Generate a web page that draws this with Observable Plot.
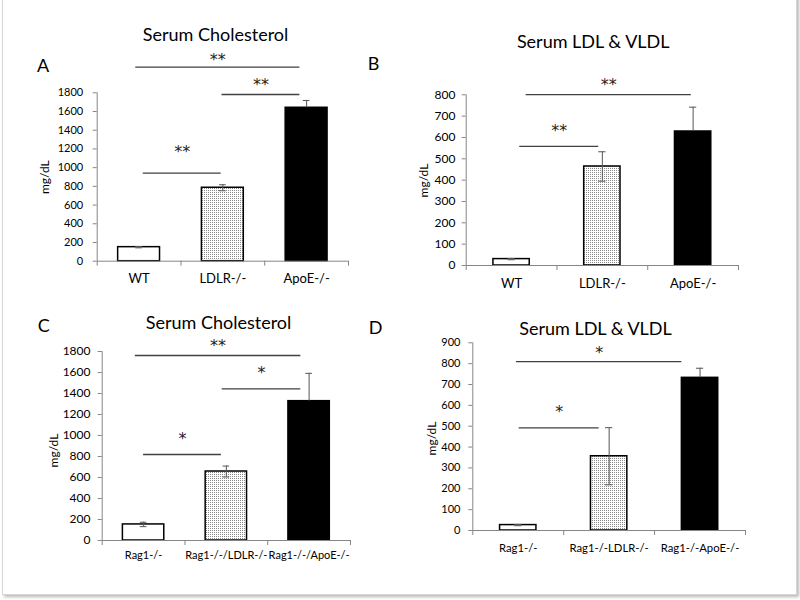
<!DOCTYPE html>
<html><head><meta charset="utf-8">
<script src="https://cdn.jsdelivr.net/npm/d3@7"></script>
<script src="https://cdn.jsdelivr.net/npm/@observablehq/plot@0.6"></script>
<style>
body{margin:0;background:#fff;}
#page{position:relative;width:800px;height:600px;overflow:hidden;background:#fff;}
#frame{position:absolute;left:2px;top:-6px;width:793px;height:599px;border:1px solid #d6d6d6;box-shadow:2px 2px 3px rgba(0,0,0,0.28);}
#page svg{position:absolute;overflow:visible;}
</style></head>
<body><div id="page"><div id="frame"></div>
<svg width="0" height="0" style="position:absolute">
<defs><pattern id="dots" width="2" height="2" patternUnits="userSpaceOnUse">
<rect width="2" height="2" fill="#ffffff"/><rect x="0" y="0" width="1" height="1" fill="#8a8a8a"/></pattern></defs></svg>
</div>
<script>
// ---- Data ----
const titlesAll = ["Serum Cholesterol", "Serum LDL & VLDL", "Serum Cholesterol", "Serum LDL & VLDL"];
const lettersAll = ["A", "B", "C", "D"];
const yLabel = "mg/dL";

const catsA = ["WT", "LDLR-/-", "ApoE-/-"];
const valsA = [150, 785, 1640];
const errsA = [7, 32, 78];
const ticksA = [0, 200, 400, 600, 800, 1000, 1200, 1400, 1600, 1800];
const sigA = [
  {x1: 0.46, x2: 2.42, y: 2074, sy: 2199, label: "**"},
  {x1: 1.49, x2: 2.42, y: 1782, sy: 1931, label: "**"},
  {x1: 0.55, x2: 1.48, y: 941, sy: 1215, label: "**"}
];

const catsB = ["WT", "LDLR-/-", "ApoE-/-"];
const valsB = [30, 464, 628];
const errsB = [3, 69, 114];
const ticksB = [0, 100, 200, 300, 400, 500, 600, 700, 800];
const sigB = [
  {x1: 0.66, x2: 2.48, y: 801, sy: 867, label: "**"},
  {x1: 0.59, x2: 1.46, y: 558, sy: 648, label: "**"}
];

const catsC = ["Rag1-/-", "Rag1-/-/LDLR-/-", "Rag1-/-/ApoE-/-"];
const valsC = [153, 657, 1327];
const errsC = [21, 52, 265];
const ticksC = [0, 200, 400, 600, 800, 1000, 1200, 1400, 1600, 1800];
const sigC = [
  {x1: 0.40, x2: 2.40, y: 1762, sy: 1889, label: "**"},
  {x1: 1.45, x2: 2.40, y: 1445, sy: 1638, label: "*"},
  {x1: 0.50, x2: 1.44, y: 819, sy: 1010, label: "*"}
];

const catsD = ["Rag1-/-", "Rag1-/-LDLR-/-", "Rag1-/-ApoE-/-"];
const valsD = [26, 356, 732];
const errsD = [3, 137, 46];
const ticksD = [0, 100, 200, 300, 400, 500, 600, 700, 800, 900];
const sigD = [
  {x1: 0.48, x2: 2.30, y: 810, sy: 871, label: "*"},
  {x1: 0.51, x2: 1.39, y: 492, sy: 588, label: "*"}
];

const fills = ["#ffffff", "url(#dots)", "#000000"];

// ---- Layout (styles/positions) ----
const layouts = [
  {ox: 0, oy: 0, mL: 96.7, mR: 52, mT: 92.3, mB: 39.3, barW: 0.5, tickFont: 11, tickPad: 10, catFont: 13, catPad: 12.6,
   title: [215, 35], letter: [42.5, 65.3], ylab: [45, 176.7]},
  {ox: 400, oy: 0, mL: 65.7, mR: 62, mT: 94.3, mB: 35, barW: 0.4, tickFont: 12, tickPad: 6.7, catFont: 13, catPad: 13.3,
   title: [592.7, 41.7], letter: [373, 64], ylab: [423.3, 180]},
  {ox: 0, oy: 300, mL: 101.7, mR: 50, mT: 51, mB: 60, barW: 0.5, tickFont: 12, tickPad: 7.7, catFont: 11, catPad: 10.7,
   title: [218, 322.5], letter: [43.3, 325.8], ylab: [53.3, 450]},
  {ox: 400, oy: 300, mL: 72.3, mR: 55, mT: 42.3, mB: 70, barW: 0.4, tickFont: 11, tickPad: 8.3, catFont: 11.3, catPad: 13.3,
   title: [595, 328.3], letter: [375, 327.5], ylab: [431.7, 438]}
];

const panels = [
  [catsA, valsA, errsA, ticksA, sigA],
  [catsB, valsB, errsB, ticksB, sigB],
  [catsC, valsC, errsC, ticksC, sigC],
  [catsD, valsD, errsD, ticksD, sigD]
];

const gray = "#868686";
const page = document.getElementById("page");

panels.forEach(([cats, vals, errs, ticks, sig], p) => {
  const L = layouts[p];
  const rows = cats.map((c, i) => ({cat: c, i, v: vals[i], e: errs[i], fill: fills[i], dark: fills[i] === "#000000"}));
  const at = ([ax, ay]) => ({frameAnchor: "top-left", dx: ax - L.ox - L.mL, dy: ay - L.oy - L.mT});
  const ymax = ticks[ticks.length - 1];
  const chart = Plot.plot({
    width: 400, height: 300,
    marginLeft: L.mL, marginRight: L.mR, marginTop: L.mT, marginBottom: L.mB,
    x: {domain: [0, cats.length], axis: null},
    y: {domain: [0, ymax], axis: null},
    style: {fontFamily: "Lato, 'Open Sans', sans-serif", fontSize: "11px", background: "transparent", color: "black"},
    marks: [
      Plot.rectY(rows, {x1: d => d.i + 0.5 - L.barW / 2, x2: d => d.i + 0.5 + L.barW / 2, y1: 0, y2: "v",
        fill: d => d.fill, stroke: "black", strokeWidth: 1.5}),
      Plot.ruleX(rows, {x: d => d.i + 0.5, y1: d => d.dark ? d.v : d.v - d.e, y2: d => d.v + d.e, stroke: "#555", strokeWidth: 1}),
      Plot.ruleY(rows, {y: d => d.v + d.e, x1: d => d.i + 0.5 - 0.04, x2: d => d.i + 0.5 + 0.04, stroke: "#555", strokeWidth: 1}),
      Plot.ruleY(rows, {y: d => d.v - d.e, x1: d => d.i + 0.5 - 0.04, x2: d => d.i + 0.5 + 0.04, stroke: "#555", strokeWidth: 1, filter: d => !d.dark}),
      Plot.ruleX([0], {stroke: gray}),
      Plot.ruleY([0], {stroke: gray}),
      Plot.axisY({ticks, tickSize: 4, tickPadding: L.tickPad, stroke: gray, fill: "black", fontSize: L.tickFont, label: null, tickFormat: d => String(d)}),
      Plot.axisX({ticks: d3.range(cats.length + 1), tickSize: 5, stroke: gray, tickFormat: () => "", label: null}),
      Plot.axisX({ticks: cats.map((c, i) => i + 0.5), tickSize: 0, tickPadding: L.catPad, fill: "black", fontSize: L.catFont,
        tickFormat: t => cats[Math.floor(t)], label: null}),
      Plot.ruleY(sig, {y: "y", x1: "x1", x2: "x2", stroke: "#404040", strokeWidth: 1.3}),
      Plot.text(sig, {x: d => (d.x1 + d.x2) / 2, y: "sy", text: "label", fontSize: 16, dy: 4, fill: "#222",
        fontFamily: "'DejaVu Sans', sans-serif"}),
      Plot.text([titlesAll[p]], {...at(L.title), fontSize: 18, textAnchor: "middle", lineAnchor: "middle"}),
      Plot.text([lettersAll[p]], {...at(L.letter), fontSize: 18, textAnchor: "middle", lineAnchor: "middle"}),
      Plot.text([yLabel], {...at(L.ylab), rotate: -90, fontSize: 12, textAnchor: "middle", lineAnchor: "middle"})
    ]
  });
  chart.style.left = L.ox + "px";
  chart.style.top = L.oy + "px";
  page.appendChild(chart);
});
</script>
</body></html>
